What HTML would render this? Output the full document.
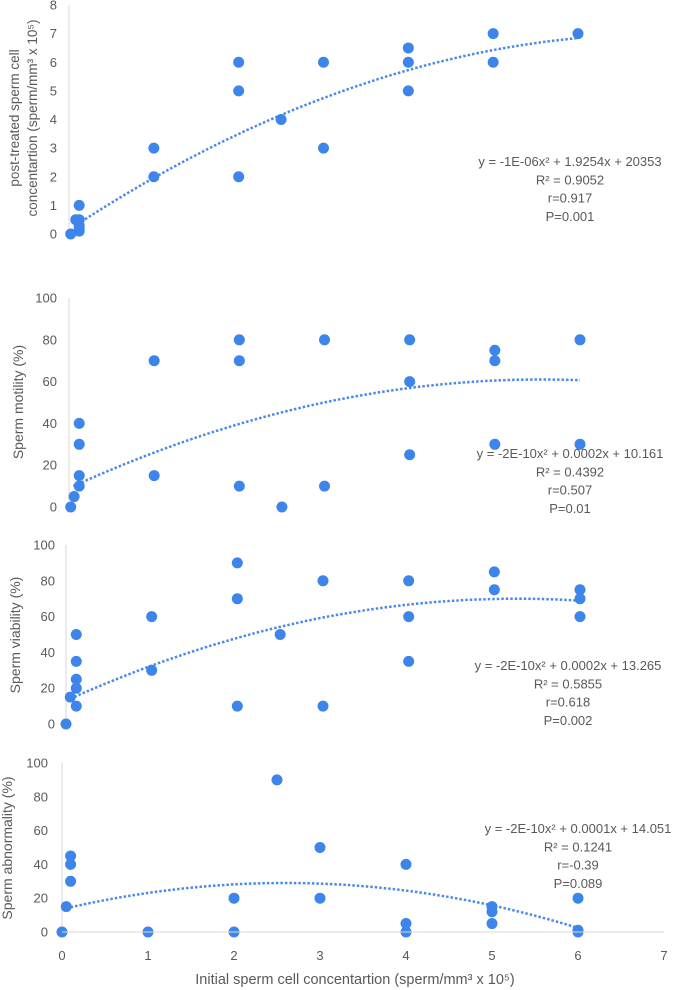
<!DOCTYPE html>
<html><head><meta charset="utf-8">
<style>
html,body{margin:0;padding:0;background:#fff;}
svg{display:block;font-family:"Liberation Sans",sans-serif;}
</style></head>
<body>
<svg id="chart" width="685" height="990" viewBox="0 0 685 990" xmlns="http://www.w3.org/2000/svg"></svg>
<script>
// ---- data ----
const p1X = [0.02,0.08,0.12,0.12,0.12,0.12,0.12,1,1,2,2,2,2.5,3,3,4,4,4,5,5,6];
const p1Y = [0,0.5,0.5,1,0.3,0.1,0.2,3,2,6,5,2,4,6,3,6.5,6,5,7,6,7];
const p2X = [0.02,0.06,0.12,0.12,0.12,0.12,1,1,2,2,2,2.5,3,3,4,4,4,5,5,5,6,6];
const p2Y = [0,5,10,15,30,40,70,15,80,70,10,0,80,10,80,60,25,75,70,30,80,30];
const p3X = [0,0.05,0.12,0.12,0.12,0.12,0.12,1,1,2,2,2,2.5,3,3,4,4,4,5,5,6,6,6];
const p3Y = [0,15,10,20,25,35,50,60,30,90,70,10,50,80,10,80,60,35,85,75,75,70,60];
const p4X = [0,0.05,0.1,0.1,0.1,1,2,2,2.5,3,3,4,4,4,5,5,5,6,6,6];
const p4Y = [0,15,45,40,30,0,20,0,90,50,20,40,5,0,15,12,5,20,1,0];
// trend coefficients [a,b,c]
const p1Trend = [-0.139,1.95,0.15];
const p2Trend = [-1.69,18.75,9];
const p3Trend = [-2.06,21.67,13];
const p4Trend = [-2.3,11.96,13.45];
const p1Ticks = [0,1,2,3,4,5,6,7,8];
const pctTicks = [0,20,40,60,80,100];
const xTicks = [0,1,2,3,4,5,6,7];
const p1Notes = ["y = -1E-06x² + 1.9254x + 20353","R² = 0.9052","r=0.917","P=0.001"];
const p2Notes = ["y = -2E-10x² + 0.0002x + 10.161","R² = 0.4392","r=0.507","P=0.01"];
const p3Notes = ["y = -2E-10x² + 0.0002x + 13.265","R² = 0.5855","r=0.618","P=0.002"];
const p4Notes = ["y = -2E-10x² + 0.0001x + 14.051","R² = 0.1241","r=-0.39","P=0.089"];

const NS="http://www.w3.org/2000/svg";
const svg=document.getElementById('chart');
function mk(tag,attrs,parent){const e=document.createElementNS(NS,tag);for(const k in attrs)e.setAttribute(k,attrs[k]);(parent||svg).appendChild(e);return e;}

const panels=[
 {name:'post-treated-concentration',xs:p1X,ys:p1Y,tr:p1Trend,ticks:p1Ticks,ymax:8,x0:69,x6:578,yTop:5,yBot:234,tickX:57,trendFrom:0.1,notes:p1Notes,noteX:570,noteY:166,title:['post-treated sperm cell','concentartion (sperm/mm³ x 10⁵)'],titleX:[19,37],titleY:118,tfs:13.5},
 {name:'sperm-motility',xs:p2X,ys:p2Y,tr:p2Trend,ticks:pctTicks,ymax:100,x0:69,x6:580,yTop:298,yBot:507,tickX:57,trendFrom:0.05,notes:p2Notes,noteX:570,noteY:458,title:['Sperm motility (%)'],titleX:[23],titleY:402,tfs:14},
 {name:'sperm-viability',xs:p3X,ys:p3Y,tr:p3Trend,ticks:pctTicks,ymax:100,x0:66,x6:580,yTop:545,yBot:724,tickX:55,trendFrom:0.05,notes:p3Notes,noteX:568,noteY:670,title:['Sperm viability (%)'],titleX:[20],titleY:635,tfs:14},
 {name:'sperm-abnormality',xs:p4X,ys:p4Y,tr:p4Trend,ticks:pctTicks,ymax:100,x0:62,x6:578,yTop:763,yBot:932,tickX:48,trendFrom:0.05,notes:p4Notes,noteX:578,noteY:833,title:['Sperm abnormality (%)'],titleX:[12],titleY:848,tfs:14},
];

panels.forEach((p,pi)=>{
  const g=mk('g',{});
  
  
  const sx=v=>p.x0+(p.x6-p.x0)*v/6;
  const sy=v=>p.yBot-(p.yBot-p.yTop)*v/p.ymax;
  const ax=mk('line',{x1:p.x0,x2:p.x0,y1:p.yTop,y2:p.yBot,stroke:'#d9d9d9','stroke-width':1},g);
  
  
  p.ticks.forEach(t=>{
    const tx=mk('text',{x:p.tickX,y:sy(t)+4.5,'text-anchor':'end','font-size':13,fill:'#595959'},g);
    tx.textContent=t;
    
    
  });
  p.title.forEach((s,i)=>{
    const tt=mk('text',{x:p.titleX[i],y:p.titleY,'text-anchor':'middle','font-size':p.tfs,fill:'#595959',transform:`rotate(-90 ${p.titleX[i]} ${p.titleY})`},g);
    tt.textContent=s;
    
    
  });
  // trendline
  let d='';
  for(let i=0;i<=60;i++){const v=p.trendFrom+(6-p.trendFrom)*i/60;const y=p.tr[0]*v*v+p.tr[1]*v+p.tr[2];d+=(i?'L':'M')+sx(v).toFixed(1)+' '+sy(y).toFixed(1);}
  const tl=mk('path',{d:d,fill:'none',stroke:'#4a8ae8','stroke-width':2.5,'stroke-dasharray':'2.5 2'},g);
  
  
  p.xs.forEach((v,i)=>{
    const c=mk('circle',{cx:sx(v),cy:sy(p.ys[i]),r:5.5,fill:'#3d85ea'},g);
    
    
  });
  p.notes.forEach((s,i)=>{
    const n=mk('text',{x:p.noteX,y:p.noteY+i*18.3,'text-anchor':'middle','font-size':13,fill:'#595959'},g);
    n.textContent=s;
    
    
  });
  if(pi===3){
    const xa=mk('line',{x1:p.x0,x2:sx(7),y1:p.yBot,y2:p.yBot,stroke:'#d9d9d9','stroke-width':1},g);
    
    
    xTicks.forEach(t=>{
      const tx=mk('text',{x:sx(t),y:960,'text-anchor':'middle','font-size':13,fill:'#595959'},g);
      tx.textContent=t;
      
      
    });
    const xt=mk('text',{x:355,y:984,'text-anchor':'middle','font-size':14.5,fill:'#595959'},g);
    xt.textContent='Initial sperm cell concentartion (sperm/mm³ x 10⁵)';
    
    
  }
});
</script>
</body></html>
